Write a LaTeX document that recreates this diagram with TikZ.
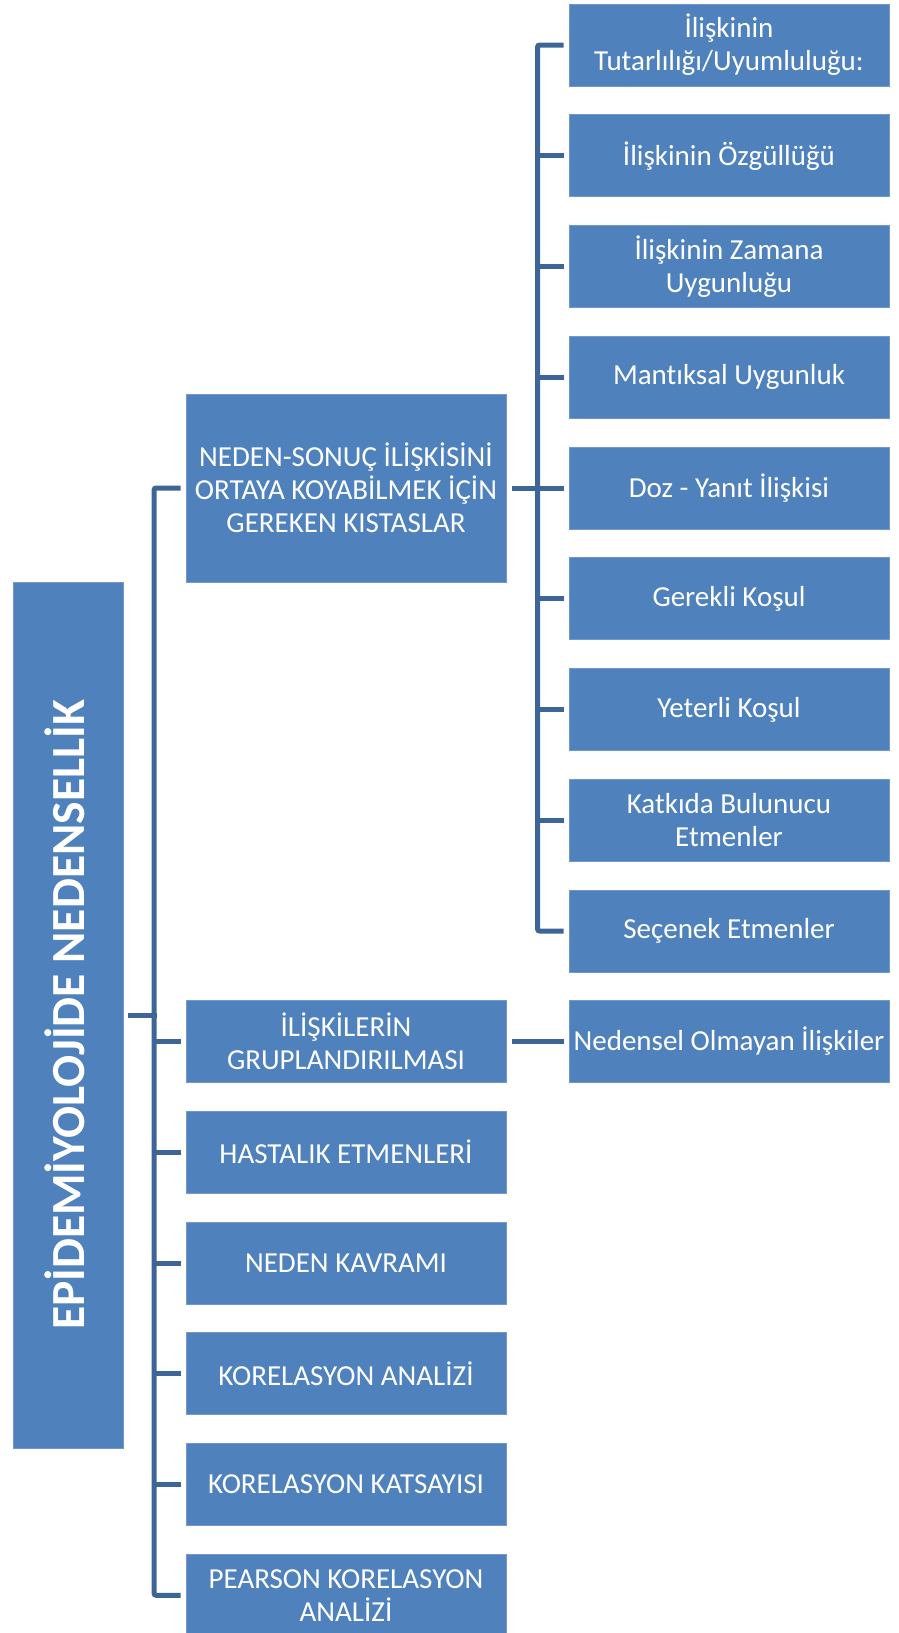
\documentclass[tikz,border=0pt]{standalone}
\usepackage{fontspec}
\setmainfont{Carlito}[Ligatures=NoCommon]
\definecolor{boxblue}{HTML}{4F81BD}
\definecolor{boxedge}{HTML}{7399CA}
\definecolor{linkblue}{HTML}{3E6598}
\tikzset{
  kutu/.style={fill=boxblue, draw=boxedge, line width=0.8pt, text=white, align=center,
    minimum width=320pt, minimum height=82pt, inner sep=0pt,
    font=\fontsize{29}{33}\selectfont},
  bag/.style={draw=linkblue, line width=5pt, rounded corners=2pt}
}
\begin{document}
\begin{tikzpicture}[x=1pt, y=-1pt]
    \useasboundingbox (0,0) rectangle (899,1633);
    % root
    \node[kutu, minimum width=110pt, minimum height=866pt] (kok) at (68,1015) {};
    \node[rotate=90, text=white, font=\fontsize{47.5}{50}\selectfont\bfseries] at ([xshift=-3pt]kok.center) {EPİDEMİYOLOJİDE NEDENSELLİK};
    % first level
    \node[kutu, minimum height=188pt] (ns) at (346,488) {NEDEN-SONUÇ İLİŞKİSİNİ\\ORTAYA KOYABİLMEK İÇİN\\GEREKEN KISTASLAR};
    \node[kutu] (gr) at (346,1041.5) {İLİŞKİLERİN\\GRUPLANDIRILMASI};
    \node[kutu] (he) at (346,1152.25) {HASTALIK ETMENLERİ};
    \node[kutu] (nk) at (346,1263) {NEDEN KAVRAMI};
    \node[kutu] (ka) at (346,1373.75) {KORELASYON ANALİZİ};
    \node[kutu] (kk) at (346,1484.5) {KORELASYON KATSAYISI};
    \node[kutu] (pk) at (346,1595.25) {PEARSON KORELASYON\\ANALİZİ};
    % second level
    \node[kutu] (k1) at (729,45) {İlişkinin\\Tutarlılığı/Uyumluluğu:};
    \node[kutu] (k2) at (729,155.75) {İlişkinin Özgüllüğü};
    \node[kutu] (k3) at (729,266.5) {İlişkinin Zamana\\Uygunluğu};
    \node[kutu] (k4) at (729,377.25) {Mantıksal Uygunluk};
    \node[kutu] (k5) at (729,488) {Doz - Yanıt İlişkisi};
    \node[kutu] (k6) at (729,598.75) {Gerekli Koşul};
    \node[kutu] (k7) at (729,709.5) {Yeterli Koşul};
    \node[kutu] (k8) at (729,820.25) {Katkıda Bulunucu\\Etmenler};
    \node[kutu] (k9) at (729,931) {Seçenek Etmenler};
    \node[kutu] (no) at (729,1041.5) {Nedensel Olmayan İlişkiler};
    % links
    \draw[bag] ([xshift=-5pt]ns.west) -| ([xshift=-31.5pt]pk.west) -- ([xshift=-5pt]pk.west);
    \draw[bag] ([xshift=5pt]kok.east) -- ([xshift=-29pt]gr.west |- kok.east);
    \foreach \n in {gr,he,nk,ka,kk}
        \draw[bag] ([xshift=-5pt]\n.west) -- ++(-26.5,0);
    \draw[bag] ([xshift=-5pt]k1.west) -| ([xshift=-31pt]k9.west) -- ([xshift=-5pt]k9.west);
    \foreach \n in {k2,k3,k4,k5,k6,k7,k8}
        \draw[bag] ([xshift=-5pt]\n.west) -- ++(-26,0);
    \draw[bag] ([xshift=6pt]ns.east) -- ([xshift=-5pt]k5.west);
    \draw[bag] ([xshift=6pt]gr.east) -- ([xshift=-5pt]no.west);
\end{tikzpicture}
\end{document}
